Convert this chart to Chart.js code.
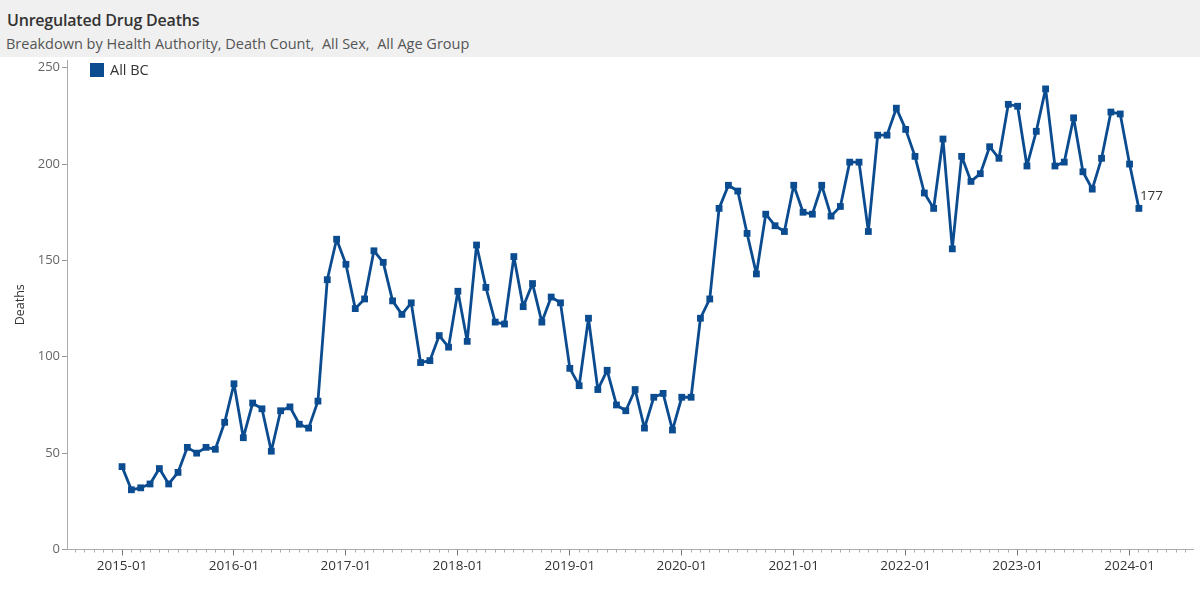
<!DOCTYPE html>
<html>
<head>
<meta charset="utf-8">
<script src="https://cdn.jsdelivr.net/npm/chart.js@4"></script>
<style>
  body { margin: 0; width: 1200px; height: 590px; background: #fff; font-family: 'Open Sans', sans-serif; position: relative; overflow: hidden; }
  .header { position: absolute; left: 0; top: 0; width: 1200px; height: 57px; background: #f0f0f0; }
  .title { position: absolute; left: 7px; top: 9px; font-size: 16px; line-height: 22px; color: #333; font-weight: 600; letter-spacing: -0.2px; }
  .subtitle { position: absolute; left: 6px; top: 34px; font-size: 14.5px; line-height: 19px; color: #555; white-space: pre; }
  #chart { position: absolute; left: 0; top: 0; z-index: 1; }
  .legend { position: absolute; left: 90px; top: 63px; z-index: 2; font-size: 14.5px; line-height: 14px; color: #333; display: flex; align-items: center; }
  .legend .box { width: 14px; height: 14px; background: #0b4b8f; margin-right: 6px; }
</style>
</head>
<body>
<div class="header">
  <div class="title">Unregulated Drug Deaths</div>
  <div class="subtitle">Breakdown by Health Authority, Death Count,  All Sex,  All Age Group</div>
</div>
<div class="legend"><div class="box"></div><span id="legendText"></span></div>
<canvas id="chart" width="1200" height="590"></canvas>
<script>
// monthly deaths, starting 2015-01
const seriesName = 'All BC';
const deaths = [
  43, 31, 32, 34, 42, 34, 40, 53, 50, 53, 52, 66,          // 2015
  86, 58, 76, 73, 51, 72, 74, 65, 63, 77, 140, 161,        // 2016
  148, 125, 130, 155, 149, 129, 122, 128, 97, 98, 111, 105, // 2017
  134, 108, 158, 136, 118, 117, 152, 126, 138, 118, 131, 128, // 2018
  94, 85, 120, 83, 93, 75, 72, 83, 63, 79, 81, 62,         // 2019
  79, 79, 120, 130, 177, 189, 186, 164, 143, 174, 168, 165, // 2020
  189, 175, 174, 189, 173, 178, 201, 201, 165, 215, 215, 229, // 2021
  218, 204, 185, 177, 213, 156, 204, 191, 195, 209, 203, 231, // 2022
  230, 199, 217, 239, 199, 201, 224, 196, 187, 203, 227, 226, // 2023
  200, 177                                                  // 2024
];
const yearLabels = ['2015-01', '2016-01', '2017-01', '2018-01', '2019-01', '2020-01', '2021-01', '2022-01', '2023-01', '2024-01'];
const yTicks = [0, 50, 100, 150, 200, 250];

const lineColor = '#0b4b8f';
document.getElementById('legendText').textContent = seriesName;

// label on the last point
const lastLabel = {
  id: 'lastLabel',
  afterDatasetsDraw(chart) {
    const pts = chart.getDatasetMeta(0).data;
    const p = pts[pts.length - 1];
    const ctx = chart.ctx;
    ctx.save();
    ctx.font = '13.5px "Open Sans"';
    ctx.fillStyle = '#333';
    ctx.textAlign = 'left';
    ctx.textBaseline = 'middle';
    ctx.fillText(String(deaths[deaths.length - 1]), p.x + 1, p.y - 12);
    ctx.restore();
  }
};

const chart = new Chart(document.getElementById('chart'), {
  type: 'line',
  data: {
    datasets: [{
      label: seriesName,
      data: deaths.map((v, i) => ({ x: i, y: v })),
      borderColor: lineColor,
      backgroundColor: lineColor,
      borderWidth: 2.8,
      borderJoinStyle: 'round',
      borderCapStyle: 'round',
      pointStyle: 'rect',
      pointRadius: 4.8,
      pointBorderWidth: 0,
      pointBackgroundColor: lineColor,
      tension: 0,
      clip: false
    }]
  },
  options: {
    responsive: false,
    animation: false,
    layout: { padding: { left: 0, right: 7, top: 60, bottom: 0 } },
    plugins: { legend: { display: false }, tooltip: { enabled: false } },
    scales: {
      x: {
        type: 'linear',
        min: -5.9,
        max: 114.8,
        afterBuildTicks(scale) {
          const t = [];
          for (let m = -5; m <= 114; m++) t.push({ value: m });
          scale.ticks = t;
        },
        afterFit(scale) { scale.height = 40.5; },
        ticks: {
          autoSkip: false,
          maxRotation: 0,
          padding: 3,
          color: '#333',
          font: { family: 'Open Sans', size: 13.5 },
          callback: v => (v % 12 === 0 && v >= 0) ? yearLabels[v / 12] : ''
        },
        grid: {
          drawOnChartArea: false,
          tickLength: 6,
          tickColor: c => (c.tick && c.tick.value % 12 === 0) ? '#777' : '#aaa',
          tickBorderDash: c => (c.tick && c.tick.value % 12 === 0) ? [] : [2.5, 20]
        },
        border: { color: '#aaa' }
      },
      y: {
        min: 0,
        max: 254,
        afterBuildTicks(scale) { scale.ticks = yTicks.map(v => ({ value: v })); },
        afterFit(scale) { scale.width = 67; },
        ticks: {
          padding: 2,
          color: '#666',
          font: { family: 'Open Sans', size: 13 }
        },
        grid: { drawOnChartArea: false, tickLength: 5, tickColor: '#999' },
        border: { color: '#aaa' },
        title: {
          display: true,
          text: 'Deaths',
          color: '#333',
          font: { family: 'Open Sans', size: 12.5 },
          padding: { top: 13, bottom: 0 }
        }
      }
    }
  },
  plugins: [lastLabel]
});
</script>
</body>
</html>
